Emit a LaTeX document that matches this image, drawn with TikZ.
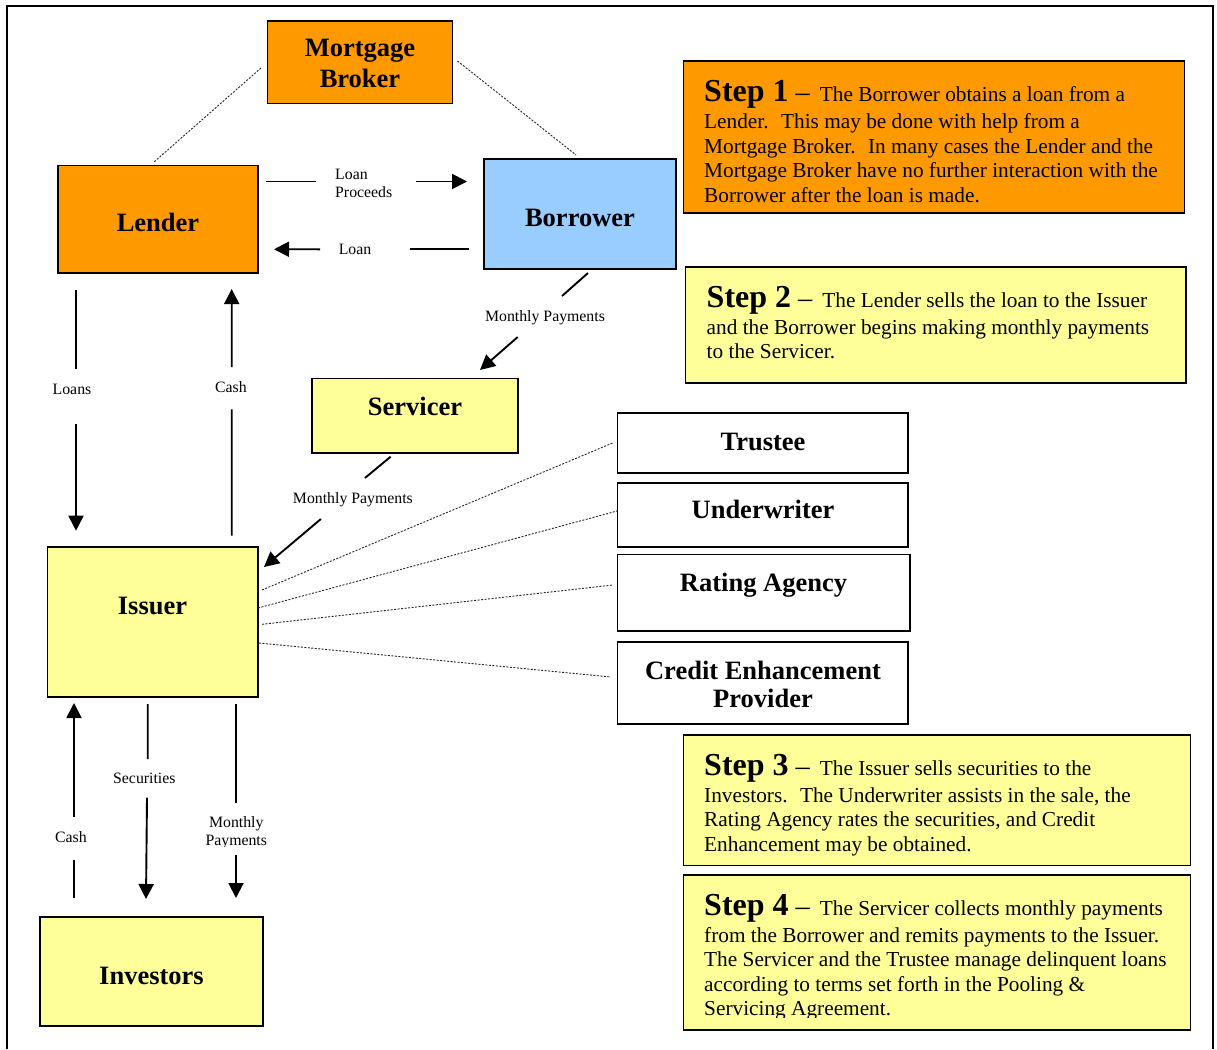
\documentclass[tikz,border=0pt]{standalone}
\usepackage{fontspec}
\setmainfont{Liberation Serif}
\usetikzlibrary{calc,arrows.meta}
\definecolor{borange}{HTML}{FF9900}
\definecolor{bblue}{HTML}{99CCFF}
\definecolor{byellow}{HTML}{FFFF99}
\newcommand\mkbox[6]{\node[bx,#6,minimum width={(#4)-(#2)},minimum height={(#5)-(#3)}] (#1) at ({((#2)+(#4))/2},{((#3)+(#5))/2}) {};}
\newcommand\stephead[1]{{\fontsize{32}{32}\selectfont\bfseries Step #1}\hspace{7pt}{\fontsize{28.4}{28.4}\selectfont –}\hspace{10pt}}
\tikzset{
  bx/.style={draw=black, line width=1.7pt, rectangle, inner sep=0pt, outer sep=0pt},
  sbx/.style={draw=black, line width=1.9pt, rectangle, inner sep=0pt, outer sep=0pt},
  nm/.style={font=\fontsize{26.5}{30.6}\selectfont\bfseries, inner sep=0pt, anchor=base},
  lb/.style={font=\fontsize{15.8}{18.3}\selectfont, inner sep=0pt, anchor=base},
  st/.style={font=\fontsize{21.3}{24.5}\selectfont, inner sep=0pt, anchor=base west},
  ar/.style={line width=1.9pt, -{Triangle[length=15pt,width=15pt]}},
  ln/.style={line width=1.9pt},
  dl/.style={line width=0.9pt, black!85, dash pattern=on 2pt off 1.5pt},
}
\begin{document}
\begin{tikzpicture}[x=1pt,y=-1pt]
\useasboundingbox (0,0) rectangle (1217,1049);
\fill[white] (0,0) rectangle (1217,1049);
% outer frame
\draw[line width=2pt] (6.5,1049) -- (6.5,6.5) -- (1213,6.5) -- (1213,1049);

% boxes
\mkbox{broker}{267.5}{21}{452.5}{103.5}{fill=borange}
\mkbox{lender}{58}{165.5}{258}{273}{fill=borange}
\mkbox{borrower}{484}{159}{676}{269}{fill=bblue}
\mkbox{servicer}{312}{378.5}{518.3}{452.7}{fill=byellow}
\mkbox{trustee}{617.5}{413}{908.3}{472.7}{fill=white}
\mkbox{underwriter}{617.5}{483.3}{908.3}{546.7}{fill=white}
\mkbox{rating}{617.5}{554.5}{910}{630.7}{fill=white}
\mkbox{credit}{617.5}{641.7}{908.3}{724.3}{fill=white}
\mkbox{issuer}{47.5}{547.3}{258}{697.3}{fill=byellow}
\mkbox{investors}{40}{917}{262.7}{1025.7}{fill=byellow}
\mkbox{step1}{683.5}{61}{1184.5}{213}{sbx,fill=borange}
\mkbox{step2}{685.5}{267}{1186}{383}{sbx,fill=byellow}
\mkbox{step3}{683.5}{735}{1190.5}{865.5}{sbx,fill=byellow}
\mkbox{step4}{683.5}{875}{1190.5}{1030}{sbx,fill=byellow}

% box names
\node[nm] (brokert) at (360,56.7) {\begin{tabular}[t]{@{}c@{}}Mortgage\\Broker\end{tabular}};
\node[nm] (lendert) at (158,231.7) {Lender};
\node[nm] (borrowert) at (580,226) {Borrower};
\node[nm] (servicert) at (415,415) {Servicer};
\node[nm] (trusteet) at (763,450) {Trustee};
\node[nm] (underwritert) at (763,518.5) {Underwriter};
\node[nm] (ratingt) at (763.5,591) {Rating Agency};
\node[nm, font=\fontsize{26.5}{28.5}\selectfont\bfseries] (creditt) at (763,679) {\begin{tabular}[t]{@{}c@{}}Credit Enhancement\\Provider\end{tabular}};
\node[nm] (issuert) at (152.5,614) {Issuer};
\node[nm] (investorst) at (151.5,984) {Investors};

% step texts
\node[st] (s1t) at (704,101.7) {\begin{tabular}[t]{@{}l@{}}\stephead{1}The Borrower obtains a loan from a\\[2.5pt]
Lender.~ This may be done with help from a\\
Mortgage Broker.~ In many cases the Lender and the\\
Mortgage Broker have no further interaction with the\\
Borrower after the loan is made.\end{tabular}};
\node[st] (s2t) at (706.5,307.3) {\begin{tabular}[t]{@{}l@{}}\stephead{2}The Lender sells the loan to the Issuer\\[2.5pt]
and the Borrower begins making monthly payments\\
to the Servicer.\end{tabular}};
\node[st] (s3t) at (704,775) {\begin{tabular}[t]{@{}l@{}}\stephead{3}The Issuer sells securities to the\\[2.5pt]
Investors.~ The Underwriter assists in the sale, the\\
Rating Agency rates the securities, and Credit\\
Enhancement may be obtained.\end{tabular}};
\begin{scope}
\clip (690,880) rectangle (1185,1017.5);
\node[st] (s4t) at (704,915) {\begin{tabular}[t]{@{}l@{}}\stephead{4}The Servicer collects monthly payments\\[2.5pt]
from the Borrower and remits payments to the Issuer.\\
The Servicer and the Trustee manage delinquent loans\\
according to terms set forth in the Pooling \&\\
Servicing Agreement.\end{tabular}};
\end{scope}

% dotted relations
\draw[dl] ($(broker.west)+(-6.5,5.75)$) -- ($(lender.north)+(-4,-3.5)$);
\draw[dl] ($(broker.east)+(5,-1.25)$) -- ($(borrower.north)+(-4,-4)$);
\draw[dl] ($(issuer.east)+(4,-32.3)$) -- ($(trustee.west)+(-4.5,0)$);
\draw[dl] ($(issuer.east)+(0,-14.3)$) -- ($(underwriter.west)+(-0.5,-4)$);
\draw[dl] ($(issuer.east)+(4,2)$) -- ($(rating.west)+(-4.5,-7.6)$);
\draw[dl] ($(issuer.east)+(1,20.7)$) -- ($(credit.west)+(-6.5,-6)$);

% Loan Proceeds
\node[lb, anchor=base west] (lpl) at (335,179) {\begin{tabular}[t]{@{}l@{}}Loan\\Proceeds\end{tabular}};
\draw[ln] ($(lender.east)+(8,-37.75)$) -- ($(lpl.base west)+(-19,2.5)$);
\draw[ar] ($(lpl.base west)+(81,2.5)$) -- ($(borrower.west)+(-17,-32.5)$);

% Loan
\node[lb] (lnl) at (355,254) {Loan};
\draw[ln] ($(borrower.west)+(-15,35.3)$) -- ($(lnl.base)+(55,-4.7)$);
\draw[ar] ($(lnl.base)+(-35,-4.7)$) -- ($(lender.east)+(16,30)$);

% Borrower -> Servicer
\node[lb] (mp1) at (545,321.7) {Monthly Payments};
\draw[ln] ($(borrower.south)+(8,4)$) -- ($(mp1.base)+(17,-25.7)$);
\draw[ar] ($(mp1.base)+(-27.3,15.3)$) -- ($(servicer.north east)+(-38.3,-8.5)$);

% Servicer -> Issuer
\node[lb] (mp2) at (352.9,503) {Monthly Payments};
\draw[ln] ($(servicer.south)+(-24.5,4)$) -- ($(mp2.base)+(12,-25)$);
\draw[ar] ($(mp2.base)+(-32,16)$) -- ($(issuer.north east)+(6,19.7)$);

% Lender -> Issuer : Loans
\node[lb] (lo) at (72,394) {Loans};
\draw[ln] ($(lender.south west)+(18,17)$) -- ($(lo.base)+(4,-25)$);
\draw[ar] ($(lo.base)+(4,30)$) -- ($(issuer.north west)+(28.5,-16.6)$);

% Issuer -> Lender : Cash
\node[lb] (ca1) at (230.85,392) {Cash};
\draw[ln] ($(issuer.north west)+(184.2,-11.6)$) -- ($(ca1.base)+(0.85,17.3)$);
\draw[ar] ($(ca1.base)+(0.85,-25)$) -- ($(lender.south west)+(173.7,16)$);

% Investors -> Issuer : Cash
\node[lb] (ca2) at (70.85,842) {Cash};
\draw[ln] ($(investors.north west)+(34,-19)$) -- ($(ca2.base)+(3.15,18)$);
\draw[ar] ($(ca2.base)+(3.15,-25.3)$) -- ($(issuer.south west)+(26.5,5.7)$);

% Issuer -> Investors : Securities
\node[lb] (se) at (144.35,783) {Securities};
\draw[ln] ($(issuer.south west)+(100.2,6.7)$) -- ($(se.base)+(3.35,-24)$);
\draw[ar] ($(se.base)+(2.65,14.7)$) -- ($(investors.north west)+(106,-18)$);

% Issuer -> Investors : Monthly Payments
\begin{scope}
\clip (185,805) rectangle (290,846.5);
\node[lb] (mp3) at (236.3,827) {\begin{tabular}[t]{@{}c@{}}Monthly\\Payments\end{tabular}};
\end{scope}
\draw[ln] ($(issuer.south west)+(188.5,6.7)$) -- ($(mp3.base)+(-0.3,-24.3)$);
\draw[ar] ($(mp3.base)+(-0.3,28)$) -- ($(investors.north west)+(196,-19)$);
\end{tikzpicture}
\end{document}
